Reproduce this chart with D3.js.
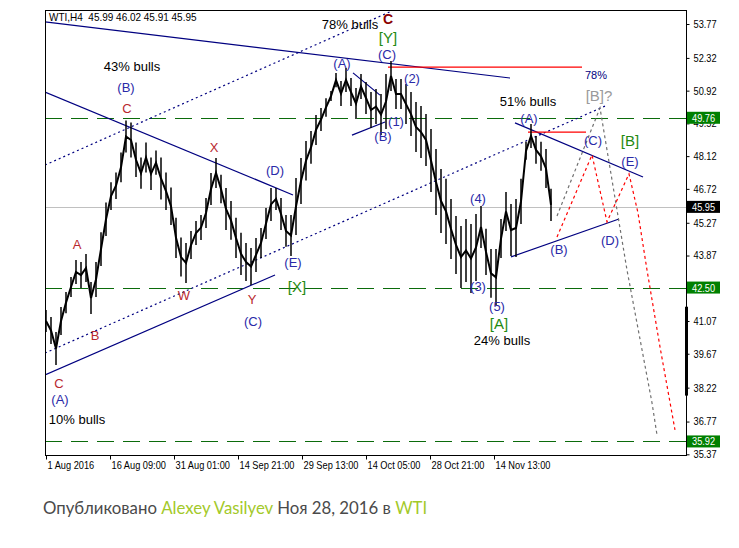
<!DOCTYPE html>
<html><head><meta charset="utf-8">
<script src="https://cdn.jsdelivr.net/npm/d3@7"></script>
<style>body{margin:0;background:#fff}svg{display:block}</style>
</head><body><svg id="c" width="739" height="548"></svg>
<script>
// ---------- data ----------
const symbolHeader = "WTI,H4  45.99 46.02 45.91 45.95";
const timeTickIndex = [0, 64, 128, 192, 256, 320, 384, 448];
const timeTickLabels = ["1 Aug 2016", "16 Aug 09:00", "31 Aug 01:00", "14 Sep 21:00", "29 Sep 13:00", "14 Oct 05:00", "28 Oct 21:00", "14 Nov 13:00"];
const priceTicks = [53.77, 52.32, 50.92, 49.52, 48.12, 46.72, 45.27, 43.87, 42.47, 41.07, 39.67, 38.22, 36.77, 35.37];
const levelLines = [49.76, 42.50, 35.92];
const lastPrice = 45.95;
const barStep = 5; // bars between samples
const highs = [41.54,41.24,40.60,41.67,42.31,42.95,43.68,43.59,43.93,42.74,43.59,44.87,46.14,47.00,47.42,48.28,49.64,49.56,48.70,48.06,48.70,48.06,48.36,48.06,47.42,46.78,45.49,44.64,44.41,44.92,45.35,45.60,46.33,47.40,48.04,47.32,46.76,46.20,45.48,44.84,44.41,44.19,44.62,45.05,45.90,46.76,46.76,46.33,45.60,45.60,47.19,48.04,48.77,49.19,49.88,50.18,50.60,50.90,51.67,51.33,51.89,51.46,51.03,51.63,51.29,50.86,50.99,50.78,51.63,52.19,51.42,51.42,51.20,50.86,50.43,50.26,49.92,49.28,48.43,47.57,47.15,46.29,45.56,45.13,45.43,45.22,45.65,45.99,45.01,44.15,44.15,45.43,46.59,46.07,46.29,47.15,48.73,49.49,48.98,48.73,48.43,46.72];
const lows  = [40.60,40.09,39.19,40.47,41.40,42.10,42.65,42.48,42.74,41.37,42.10,43.42,44.70,45.82,46.29,47.00,48.28,48.06,47.23,46.72,47.42,46.67,47.32,46.27,45.82,45.18,43.76,42.97,42.70,43.72,44.32,44.53,45.05,46.03,46.76,46.11,44.96,44.54,43.76,43.04,42.78,42.61,43.17,43.76,44.58,45.35,45.82,44.96,44.24,43.85,44.75,46.07,47.08,47.79,48.60,49.19,49.80,50.48,51.07,50.26,50.86,50.26,49.71,50.56,49.92,49.32,49.49,49.02,49.28,50.90,50.13,50.13,49.49,48.98,48.30,48.04,47.70,46.59,45.60,44.83,44.36,43.72,43.08,42.48,42.74,42.27,42.78,44.19,43.04,42.06,41.73,43.76,44.92,43.85,43.81,45.22,47.96,48.47,47.79,47.49,46.76,45.35];
// trend / channel lines in [barIndex, price]
const navySolidLines = [
  [[-1, 53.86], [464, 51.46]],
  [[-1, 50.86], [247, 46.46]],
  [[-1, 38.76], [229, 43.04]],
  [[307, 51.68], [334, 50.73]],
  [[306, 49.02], [339, 49.58]],
  [[469, 49.54], [597, 47.23]],
  [[465, 43.81], [573, 45.43]]
];
const navyDottedLines = [
  [[-1, 47.74], [346, 54.33]],
  [[-1, 39.70], [559, 50.26]]
];
const redSolidLines = [
  [[342, 51.93], [536, 51.93]],
  [[482, 49.15], [540, 49.15]]
];
const grayProjection = [[511, 45.56], [554, 50.18], [581, 43.25], [606, 37.57], [611, 36.20]];
const redProjection = [[511, 44.66], [546, 48.17], [561, 45.31], [583, 47.36], [592, 45.69], [601, 43.25], [614, 39.96], [629, 36.41]];
// labels: [text, barIndex, price, style]
const labels = [
  ["78% bulls", 304, 53.73, "bulls"],
  ["C", 342, 53.98, "maroon"],
  ["[Y]", 342, 53.21, "green"],
  ["(C)", 341, 52.45, "wave"],
  ["(A)", 296, 52.10, "wave"],
  ["(2)", 366, 51.42, "wave"],
  ["(1)", 350, 49.62, "wave"],
  ["(B)", 337, 48.98, "wave"],
  ["43% bulls", 86, 51.97, "bulls"],
  ["(B)", 80, 51.04, "wave"],
  ["C", 81, 50.14, "red"],
  ["X", 168, 48.47, "red"],
  ["(D)", 229, 47.49, "wave"],
  ["A", 31, 44.32, "red"],
  ["(E)", 247, 43.59, "wave"],
  ["[X]", 251, 42.53, "green"],
  ["W", 138, 42.18, "red"],
  ["Y", 206, 41.97, "red"],
  ["B", 49, 40.43, "red"],
  ["(C)", 207, 41.07, "wave"],
  ["C", 13, 38.38, "red"],
  ["(A)", 14, 37.70, "wave"],
  ["10% bulls", 31, 36.84, "bulls"],
  ["(4)", 432, 46.29, "wave"],
  ["(3)", 432, 42.53, "wave"],
  ["(5)", 451, 41.71, "wave"],
  ["[A]", 453, 40.98, "green"],
  ["24% bulls", 456, 40.22, "bulls"],
  ["51% bulls", 482, 50.44, "bulls"],
  ["(A)", 483, 49.75, "wave"],
  ["78%", 550, 51.59, "pct"],
  ["[B]?", 553, 50.73, "gray"],
  ["[B]", 584, 48.77, "green"],
  ["(C)", 547, 48.77, "wave"],
  ["(E)", 584, 47.87, "wave"],
  ["(D)", 564, 44.53, "wave"],
  ["(B)", 513, 44.11, "wave"]
];
const footerParts = [["Опубликовано ", "plain"], ["Alexey Vasilyev", "link"], [" Ноя 28, 2016 в ", "plain"], ["WTI", "link"]];

// ---------- drawing ----------
const svg = d3.select("#c");
const W = 739, H = 548;
const plot = {left: 45, right: 686, top: 10, bottom: 455};
svg.append("rect").attr("width", W).attr("height", H).attr("fill", "#fff");

const x = d3.scaleLinear().domain([0, 640]).range([46, 686]);
const y = d3.scaleLinear().domain([35.37, 53.77]).range([454.3, 24]);

svg.append("clipPath").attr("id", "pc").append("rect")
  .attr("x", plot.left).attr("y", plot.top).attr("width", plot.right - plot.left).attr("height", plot.bottom - plot.top);
const g = svg.append("g").attr("clip-path", "url(#pc)");
const axisFont = "'Liberation Sans','Arial',sans-serif";
const lineGen = d3.line().x(d => x(d[0])).y(d => y(d[1]));

// squeeze a text horizontally (narrow terminal font look)
function narrow(sel, ratio) {
  sel.each(function () {
    const w = this.getComputedTextLength();
    d3.select(this).attr("textLength", w * ratio).attr("lengthAdjust", "spacingAndGlyphs");
  });
}

// last price line
g.append("line").attr("x1", plot.left).attr("x2", plot.right).attr("y1", Math.round(y(lastPrice)) + 0.5).attr("y2", Math.round(y(lastPrice)) + 0.5)
  .attr("stroke", "#c0c0c0").attr("stroke-width", 1);
// level lines
g.selectAll(".lvl").data(levelLines).join("line")
  .attr("x1", plot.left).attr("x2", plot.right).attr("y1", d => Math.round(y(d)) + 0.5).attr("y2", d => Math.round(y(d)) + 0.5)
  .attr("stroke", "#0b6b0b").attr("stroke-width", 1).attr("stroke-dasharray", "17,9");

// navy lines
g.selectAll(".ns").data(navySolidLines).join("path").attr("d", lineGen)
  .attr("fill", "none").attr("stroke", "#000080").attr("stroke-width", 1.2);
g.selectAll(".nd").data(navyDottedLines).join("path").attr("d", lineGen)
  .attr("fill", "none").attr("stroke", "#000080").attr("stroke-width", 1.2).attr("stroke-dasharray", "2,3");
g.selectAll(".rs").data(redSolidLines).join("path").attr("d", lineGen)
  .attr("fill", "none").attr("stroke", "#ff0000").attr("stroke-width", 1.2);
g.append("path").attr("d", lineGen(grayProjection)).attr("fill", "none")
  .attr("stroke", "#707070").attr("stroke-width", 1.2).attr("stroke-dasharray", "3,3");
g.append("path").attr("d", lineGen(redProjection)).attr("fill", "none")
  .attr("stroke", "#ff0000").attr("stroke-width", 1.2).attr("stroke-dasharray", "3,3");

// price bars: high-low bars plus a mid-range trace
g.selectAll(".bar").data(highs).join("line")
  .attr("x1", (d, i) => x(i * barStep)).attr("x2", (d, i) => x(i * barStep))
  .attr("y1", d => y(d)).attr("y2", (d, i) => y(lows[i]))
  .attr("stroke", "#000").attr("stroke-width", 1.5);
const mids = highs.map((h, i) => [i * barStep, (h + lows[i]) / 2]);
g.append("path").attr("d", lineGen(mids)).attr("fill", "none").attr("stroke", "#000").attr("stroke-width", 2).attr("stroke-linejoin", "miter");

// labels
const styles = {
  bulls: {fill: "#000", size: 13, weight: "normal"},
  wave: {fill: "#2a2aa8", size: 13, weight: "normal"},
  red: {fill: "#b8282e", size: 13, weight: "normal"},
  maroon: {fill: "#8b0000", size: 14, weight: "bold"},
  green: {fill: "#1f8a10", size: 15, weight: "normal"},
  gray: {fill: "#9a9a9a", size: 15, weight: "normal"},
  pct: {fill: "#000080", size: 11, weight: "normal"}
};
svg.append("g").selectAll("text").data(labels).join("text")
  .attr("x", d => x(d[1])).attr("y", d => y(d[2]))
  .attr("text-anchor", "middle").attr("dominant-baseline", "central")
  .attr("font-family", "'Liberation Sans',Arial,sans-serif")
  .attr("font-size", d => styles[d[3]].size).attr("font-weight", d => styles[d[3]].weight)
  .attr("fill", d => styles[d[3]].fill).text(d => d[0]);

// frame
svg.append("rect").attr("x", plot.left + 0.5).attr("y", plot.top + 0.5)
  .attr("width", plot.right - plot.left).attr("height", plot.bottom - plot.top)
  .attr("fill", "none").attr("stroke", "#000").attr("stroke-width", 1);

// right axis
const ra = svg.append("g").attr("transform", `translate(${plot.right + 0.5},0)`)
  .call(d3.axisRight(y).tickValues(priceTicks).tickSize(3).tickPadding(4).tickFormat(d3.format(".2f")));
ra.select(".domain").remove();
ra.selectAll("text").attr("font-family", axisFont).attr("font-size", 10.5).attr("fill", "#000").call(narrow, 0.88);
ra.selectAll("line").attr("stroke", "#000");

// bottom axis
const ba = svg.append("g").attr("transform", `translate(0,${plot.bottom + 0.5})`)
  .call(d3.axisBottom(x).tickValues(timeTickIndex).tickSize(4).tickFormat((d, i) => timeTickLabels[i]));
ba.select(".domain").remove();
ba.selectAll("text").attr("font-family", axisFont).attr("font-size", 10.5).attr("fill", "#000")
  .attr("text-anchor", "start").attr("dx", 1).attr("y", 6).call(narrow, 0.88);
ba.selectAll("line").attr("stroke", "#000");

// thick marker on price axis
svg.append("rect").attr("x", plot.right - 1).attr("y", y(41.68)).attr("width", 3).attr("height", y(37.88) - y(41.68)).attr("fill", "#000");

// level boxes
const boxes = levelLines.map(v => [v, "#008000"]).concat([[lastPrice, "#000"]]);
const bx = svg.append("g").selectAll("g").data(boxes).join("g")
  .attr("transform", d => `translate(${plot.right + 1},${y(d[0])})`);
bx.append("rect").attr("x", 0).attr("y", -6).attr("width", 33).attr("height", 12).attr("fill", d => d[1]);
bx.append("text").attr("x", 5).attr("y", 0).attr("dominant-baseline", "central")
  .attr("font-family", axisFont).attr("font-size", 10.5).attr("fill", "#fff").text(d => d3.format(".2f")(d[0])).call(narrow, 0.88);

// header
svg.append("text").attr("x", 49).attr("y", 21).attr("font-family", axisFont).attr("font-size", 10.5)
  .attr("fill", "#000").attr("xml:space", "preserve").text(symbolHeader).call(narrow, 0.95);

// footer
const ft = svg.append("text").attr("x", 43).attr("y", 514).attr("font-family", "Lato,'Open Sans',sans-serif")
  .attr("font-size", 16.8).attr("xml:space", "preserve");
ft.selectAll("tspan").data(footerParts).join("tspan")
  .attr("fill", d => d[1] === "link" ? "#a3c92a" : "#4a4a4a").text(d => d[0]);
</script></body></html>
